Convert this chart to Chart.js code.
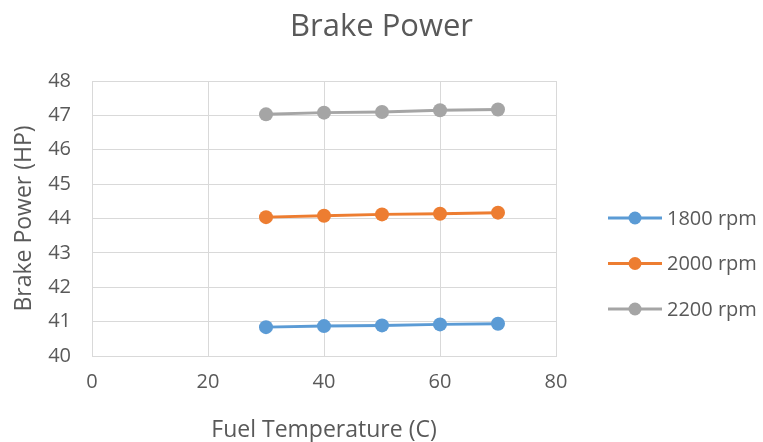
<!DOCTYPE html>
<html>
<head>
<meta charset="utf-8">
<script src="https://cdn.jsdelivr.net/npm/chart.js@4/dist/chart.umd.min.js"></script>
<style>
  html, body { margin: 0; padding: 0; background: #ffffff; }
  #wrap { width: 763px; height: 442px; }
</style>
</head>
<body>
<div id="wrap"><canvas id="chart" width="763" height="442"></canvas></div>
<script>
// Fuel temperature (C) on the x axis
const fuelTemps = [30, 40, 50, 60, 70];

// Brake power (HP) for each engine speed
const power1800 = [40.84, 40.87, 40.89, 40.92, 40.94];
const power2000 = [44.04, 44.08, 44.12, 44.14, 44.17];
const power2200 = [47.03, 47.08, 47.10, 47.15, 47.17];

const seriesNames = ['1800 rpm', '2000 rpm', '2200 rpm'];
const seriesColors = ['#5B9BD5', '#ED7D31', '#A5A5A5'];

const xTickValues = [0, 20, 40, 60, 80];
const yTickValues = [40, 41, 42, 43, 44, 45, 46, 47, 48];

const chartTitle = 'Brake Power';

const FONT = "'Open Sans', 'DejaVu Sans', sans-serif";
const TEXT = '#595959';
const GRID = '#D9D9D9';

const seriesValues = [power1800, power2000, power2200];

const datasets = seriesValues.map((vals, i) => ({
  label: seriesNames[i],
  data: fuelTemps.map((t, j) => ({ x: t, y: vals[j] })),
  borderColor: seriesColors[i],
  backgroundColor: seriesColors[i],
  pointBackgroundColor: seriesColors[i],
  pointBorderColor: seriesColors[i],
  borderWidth: 3,
  pointRadius: 7,
  pointBorderWidth: 0,
  pointHoverRadius: 7,
  tension: 0
}));

// Title centred over the whole canvas, plus a legend on the right:
// a short line with a dot, then the series name
const frameText = {
  id: 'frameText',
  afterDatasetsDraw(chart) {
    const { ctx, chartArea } = chart;
    ctx.save();

    ctx.fillStyle = TEXT;
    ctx.font = '31px ' + FONT;
    ctx.textAlign = 'center';
    ctx.textBaseline = 'middle';
    ctx.fillText(chartTitle, chart.width / 2, 27);

    const x0 = chartArea.right + 52;
    const lineLen = 54;
    const rowGap = 45.5;
    const firstRow = 218;
    chart.data.datasets.forEach((ds, i) => {
      const y = firstRow + i * rowGap;
      ctx.strokeStyle = ds.borderColor;
      ctx.lineWidth = 3;
      ctx.beginPath();
      ctx.moveTo(x0, y);
      ctx.lineTo(x0 + lineLen, y);
      ctx.stroke();
      ctx.fillStyle = ds.borderColor;
      ctx.beginPath();
      ctx.arc(x0 + lineLen / 2, y, 6.5, 0, Math.PI * 2);
      ctx.fill();
      ctx.fillStyle = TEXT;
      ctx.font = '20px ' + FONT;
      ctx.textAlign = 'left';
      ctx.textBaseline = 'middle';
      ctx.fillText(ds.label, x0 + lineLen + 5, y + 1);
    });
    ctx.restore();
  }
};

new Chart(document.getElementById('chart'), {
  type: 'line',
  data: { datasets },
  plugins: [frameText],
  options: {
    responsive: false,
    animation: false,
    events: [],
    layout: { padding: { left: 0, right: 207, top: 81, bottom: 0 } },
    plugins: {
      legend: { display: false },
      tooltip: { enabled: false },
      title: { display: false }
    },
    scales: {
      x: {
        type: 'linear',
        min: xTickValues[0],
        max: xTickValues[xTickValues.length - 1],
        afterBuildTicks: (scale) => { scale.ticks = xTickValues.map(v => ({ value: v })); },
        afterFit: (scale) => { scale.height = 86; },
        grid: { color: GRID, lineWidth: 1, drawTicks: false },
        border: { color: GRID, width: 1 },
        ticks: { color: TEXT, font: { family: FONT, size: 20 }, padding: 14, maxRotation: 0 },
        title: {
          display: true,
          text: 'Fuel Temperature (C)',
          color: TEXT,
          font: { family: FONT, size: 23, lineHeight: 1.0 },
          padding: { top: 0, bottom: 0 }
        }
      },
      y: {
        type: 'linear',
        min: yTickValues[0],
        max: yTickValues[yTickValues.length - 1],
        afterBuildTicks: (scale) => { scale.ticks = yTickValues.map(v => ({ value: v })); },
        afterFit: (scale) => { scale.width = 92; },
        grid: { color: GRID, lineWidth: 1, drawTicks: false },
        border: { color: GRID, width: 1 },
        ticks: { color: TEXT, font: { family: FONT, size: 20 }, padding: 21 },
        title: {
          display: true,
          text: 'Brake Power (HP)',
          color: TEXT,
          font: { family: FONT, size: 23 },
          padding: { top: 11, bottom: 0 }
        }
      }
    }
  }
});
</script>
</body>
</html>
